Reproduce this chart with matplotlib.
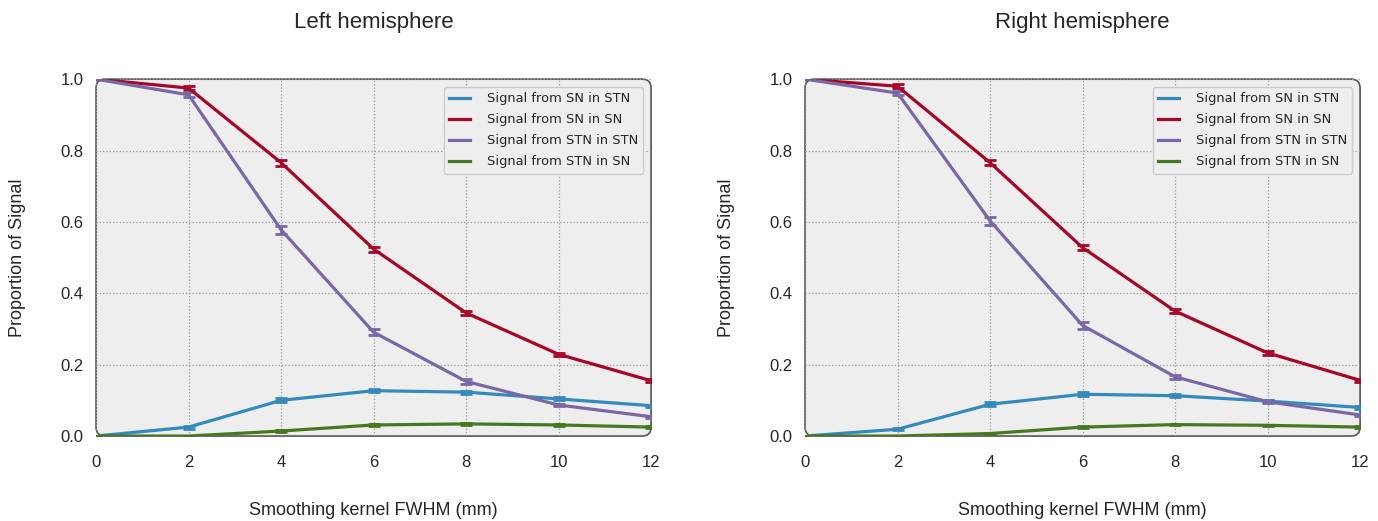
import matplotlib
matplotlib.use("Agg")
from matplotlib import pyplot as plt
from matplotlib.patches import FancyBboxPatch
from matplotlib.lines import Line2D

fwhm = [0, 2, 4, 6, 8, 10, 12]

labels = ["Signal from SN in STN", "Signal from SN in SN",
          "Signal from STN in STN", "Signal from STN in SN"]
colori = ["#348ABD", "#A60628", "#7A68A6", "#467821"]

# emisfero sinistro
sx_sn_stn = [0.0, 0.025, 0.100, 0.127, 0.123, 0.104, 0.085]
sx_sn_sn = [1.0, 0.975, 0.766, 0.524, 0.345, 0.229, 0.155]
sx_stn_stn = [1.0, 0.956, 0.578, 0.291, 0.153, 0.087, 0.054]
sx_stn_sn = [0.0, 0.0, 0.014, 0.031, 0.034, 0.031, 0.025]
sx_err = [[0.0, 0.004, 0.006, 0.005, 0.004, 0.004, 0.003],
          [0.0, 0.006, 0.008, 0.007, 0.006, 0.005, 0.004],
          [0.0, 0.007, 0.011, 0.009, 0.006, 0.004, 0.003],
          [0.0, 0.001, 0.002, 0.002, 0.002, 0.002, 0.002]]

# emisfero destro
dx_sn_stn = [0.0, 0.019, 0.089, 0.117, 0.113, 0.098, 0.080]
dx_sn_sn = [1.0, 0.980, 0.766, 0.528, 0.350, 0.233, 0.156]
dx_stn_stn = [1.0, 0.961, 0.603, 0.310, 0.166, 0.096, 0.059]
dx_stn_sn = [0.0, 0.0, 0.007, 0.025, 0.032, 0.030, 0.025]
dx_err = [[0.0, 0.003, 0.005, 0.005, 0.004, 0.003, 0.003],
          [0.0, 0.005, 0.007, 0.007, 0.006, 0.005, 0.004],
          [0.0, 0.006, 0.011, 0.009, 0.006, 0.004, 0.003],
          [0.0, 0.001, 0.002, 0.002, 0.002, 0.002, 0.002]]

fig = plt.figure(figsize=(13.78, 5.21), dpi=100)
assi = [fig.add_axes([0.0697, 0.1631, 0.4028, 0.685]),
        fig.add_axes([0.5842, 0.1631, 0.4028, 0.685])]
titoli = ["Left hemisphere", "Right hemisphere"]
dati = [([sx_sn_stn, sx_sn_sn, sx_stn_stn, sx_stn_sn], sx_err),
        ([dx_sn_stn, dx_sn_sn, dx_stn_stn, dx_stn_sn], dx_err)]

font = "Liberation Sans"
testo = "#262626"

for ax, titolo, (serie, errori) in zip(assi, titoli, dati):
    ax.patch.set_visible(False)
    for s in ax.spines.values():
        s.set_visible(False)
    bordo = FancyBboxPatch((0, 0), 1, 1, boxstyle="round,pad=0,rounding_size=0.016",
                           mutation_aspect=555 / 357, transform=ax.transAxes,
                           facecolor="#eeeeee", edgecolor="#555555", linewidth=1.2,
                           zorder=0, clip_on=False)
    ax.add_patch(bordo)
    ax.set_axisbelow(True)
    ax.grid(True, color="#999999", linestyle=":", linewidth=0.9)

    maniglie = []
    for y, e, c, lab in zip(serie, errori, colori, labels):
        linea, caps, barre = ax.errorbar(fwhm, y, yerr=e, color=c, linewidth=2.3,
                                         capsize=4, capthick=2, elinewidth=2)
        linea.set_clip_path(bordo)
        maniglie.append(Line2D([], [], color=c, linewidth=2.3, label=lab))

    ax.set_xlim(0, 12)
    ax.set_ylim(0, 1)
    ax.set_xticks(fwhm)
    ax.set_yticks([0.0, 0.2, 0.4, 0.6, 0.8, 1.0])
    ax.set_yticklabels(["0.0", "0.2", "0.4", "0.6", "0.8", "1.0"])
    ax.tick_params(length=0, labelsize=12, labelcolor=testo)
    ax.tick_params(axis="x", pad=14)
    ax.tick_params(axis="y", pad=9)
    for t in ax.get_xticklabels() + ax.get_yticklabels():
        t.set_fontfamily(font)
    ax.set_title(titolo, fontsize=16, family=font, color=testo, pad=36.5)
    ax.set_xlabel("Smoothing kernel FWHM (mm)", fontsize=13, family=font,
                  color=testo, labelpad=23)
    ax.set_ylabel("Proportion of Signal", fontsize=13, family=font,
                  color=testo, labelpad=25)
    leg = ax.legend(handles=maniglie, loc="upper right", fontsize=9.4,
                    handlelength=1.6, handletextpad=1.3, labelspacing=0.62,
                    facecolor="#eeeeee", edgecolor="#cccccc", framealpha=1,
                    fancybox=True, borderaxespad=0.6)
    for t in leg.get_texts():
        t.set_color(testo)

plt.savefig("out.png")
